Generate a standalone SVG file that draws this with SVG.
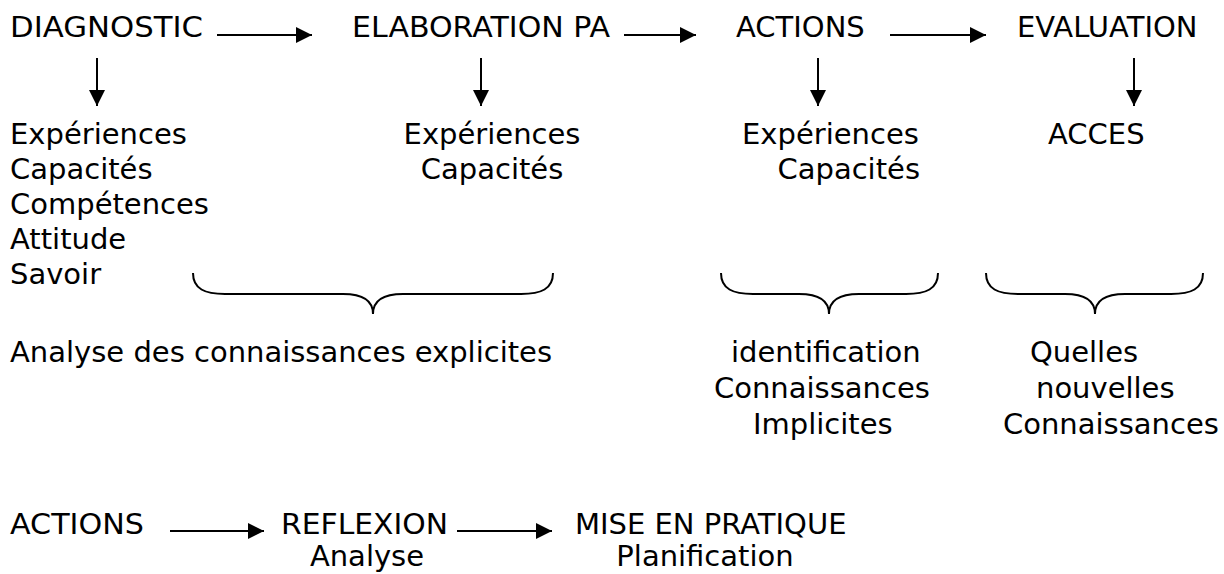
<svg xmlns="http://www.w3.org/2000/svg" width="1224" height="574" viewBox="0 0 1224 574">
<style>
text{font-family:"DejaVu Sans",Verdana,sans-serif;font-size:29px;fill:#000}
.c{text-anchor:middle}
.e{text-anchor:end}
.ln{stroke:#000;stroke-width:2;fill:none}
.br{stroke:#000;stroke-width:2;fill:none}
</style>
<defs>
<marker id="ah" markerUnits="userSpaceOnUse" markerWidth="16" markerHeight="16" refX="16" refY="8" orient="auto">
<path d="M0,0 L16,8 L0,16 Z" fill="#000"/>
</marker>
</defs>
<g id="n-diagnostic"><text x="10" y="37" textLength="193" lengthAdjust="spacingAndGlyphs">DIAGNOSTIC</text></g>
<g id="n-elaboration"><text x="352" y="37" textLength="258" lengthAdjust="spacingAndGlyphs">ELABORATION PA</text></g>
<g id="n-actions"><text x="736" y="37">ACTIONS</text></g>
<g id="n-evaluation"><text x="1017" y="37">EVALUATION</text></g>
<g id="n-col1">
<text x="10" y="144">Expériences</text>
<text x="10" y="179">Capacités</text>
<text x="10" y="214">Compétences</text>
<text x="10" y="249">Attitude</text>
<text x="10" y="284">Savoir</text>
</g>
<g id="n-col2">
<text class="c" x="492" y="144">Expériences</text>
<text class="c" x="492" y="179">Capacités</text>
</g>
<g id="n-col3">
<text x="742" y="144">Expériences</text>
<text class="e" x="920" y="179">Capacités</text>
</g>
<g id="n-acces"><text x="1048" y="144">ACCES</text></g>
<g id="n-analyse"><text x="10" y="362">Analyse des connaissances explicites</text></g>
<g id="n-implicites">
<text x="731" y="362">identification</text>
<text x="714" y="398">Connaissances</text>
<text x="753" y="434">Implicites</text>
</g>
<g id="n-nouvelles">
<text x="1030" y="362">Quelles</text>
<text x="1036" y="398">nouvelles</text>
<text x="1003" y="434">Connaissances</text>
</g>
<g id="n-b-actions"><text x="10" y="534" textLength="134" lengthAdjust="spacingAndGlyphs">ACTIONS</text></g>
<g id="n-reflexion"><text x="281" y="534" textLength="167" lengthAdjust="spacingAndGlyphs">REFLEXION</text><text class="c" x="367" y="566">Analyse</text></g>
<g id="n-mise"><text x="575" y="534">MISE EN PRATIQUE</text><text class="c" x="705" y="566">Planification</text></g>
<g id="braces">
<path class="br" d="M193,273 C193,289 205,294 225,294 L343,294 C361,294 373,300 373,314 C373,300 385,294 403,294 L521,294 C541,294 553,289 553,273"/>
<path class="br" d="M721,273 C721,289 733,294 753,294 L799,294 C817,294 829,300 829,314 C829,300 841,294 859,294 L906,294 C926,294 938,289 938,273"/>
<path class="br" d="M986,273 C986,289 998,294 1018,294 L1065,294 C1083,294 1095,300 1095,314 C1095,300 1107,294 1125,294 L1171,294 C1191,294 1203,289 1203,273"/>
</g>
<g id="connectors">
<line class="ln" x1="217" y1="35" x2="312" y2="35" marker-end="url(#ah)"/>
<line class="ln" x1="624" y1="35" x2="696" y2="35" marker-end="url(#ah)"/>
<line class="ln" x1="890" y1="35" x2="986" y2="35" marker-end="url(#ah)"/>
<line class="ln" x1="97" y1="58" x2="97" y2="106" marker-end="url(#ah)"/>
<line class="ln" x1="481" y1="58" x2="481" y2="106" marker-end="url(#ah)"/>
<line class="ln" x1="818" y1="58" x2="818" y2="106" marker-end="url(#ah)"/>
<line class="ln" x1="1134" y1="58" x2="1134" y2="106" marker-end="url(#ah)"/>
<line class="ln" x1="170" y1="531" x2="264" y2="531" marker-end="url(#ah)"/>
<line class="ln" x1="457" y1="531" x2="552" y2="531" marker-end="url(#ah)"/>
</g>
</svg>
